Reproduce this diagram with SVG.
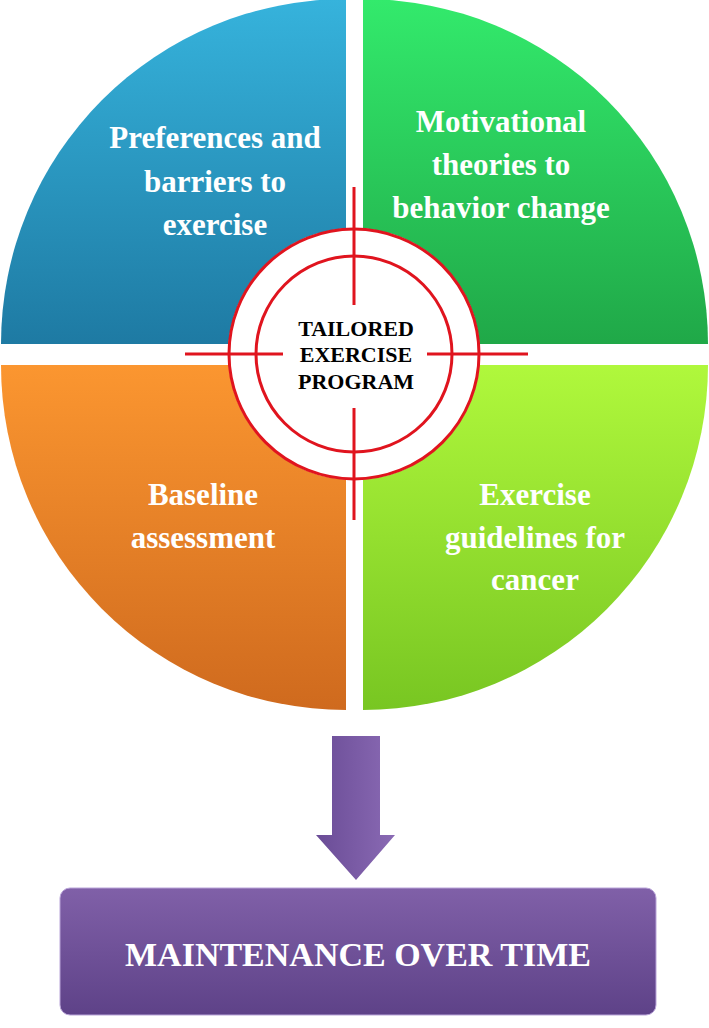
<svg xmlns="http://www.w3.org/2000/svg" width="709" height="1028" viewBox="0 0 709 1028">
<defs>
<linearGradient id="gB" x1="0" y1="0" x2="0" y2="1"><stop offset="0" stop-color="#36b3dc"/><stop offset="1" stop-color="#1e7aa3"/></linearGradient>
<linearGradient id="gG" x1="0" y1="0" x2="0" y2="1"><stop offset="0" stop-color="#33ea6c"/><stop offset="1" stop-color="#20a848"/></linearGradient>
<linearGradient id="gO" x1="0" y1="0" x2="0" y2="1"><stop offset="0" stop-color="#fb9630"/><stop offset="1" stop-color="#cf6a1e"/></linearGradient>
<linearGradient id="gL" x1="0" y1="0" x2="0" y2="1"><stop offset="0" stop-color="#b0f83c"/><stop offset="1" stop-color="#78c622"/></linearGradient>
<linearGradient id="gP" x1="0" y1="0" x2="0" y2="1"><stop offset="0" stop-color="#8060a8"/><stop offset="1" stop-color="#5e4288"/></linearGradient>
<linearGradient id="gA" x1="0" y1="0" x2="1" y2="0"><stop offset="0" stop-color="#6a4c96"/><stop offset="1" stop-color="#8a6ab4"/></linearGradient>
<style>
.q{font-family:"Liberation Serif",serif;font-weight:bold;font-size:31px;fill:#fff;text-anchor:middle}
.c{font-family:"Liberation Serif",serif;font-weight:bold;font-size:22px;fill:#000;text-anchor:middle}
.r{stroke:#e0141e;fill:none;stroke-width:3}
</style>
</defs>
<g id="q-preferences"><path d="M346,344 L1,344 A345,345 0 0 1 346,-1 Z" fill="url(#gB)"/>
<text class="q" x="215" y="148">Preferences and</text><text class="q" x="215" y="192">barriers to</text><text class="q" x="215" y="235">exercise</text></g>
<g id="q-motivational"><path d="M363,344 L363,-1 A345,345 0 0 1 708,344 Z" fill="url(#gG)"/>
<text class="q" x="501" y="132">Motivational</text><text class="q" x="501" y="175">theories to</text><text class="q" x="501" y="218">behavior change</text></g>
<g id="q-baseline"><path d="M346,365 L346,710 A345,345 0 0 1 1,365 Z" fill="url(#gO)"/>
<text class="q" x="203" y="505">Baseline</text><text class="q" x="203" y="548">assessment</text></g>
<g id="q-guidelines"><path d="M363,365 L708,365 A345,345 0 0 1 363,710 Z" fill="url(#gL)"/>
<text class="q" x="535" y="505">Exercise</text><text class="q" x="535" y="548">guidelines for</text><text class="q" x="535" y="590">cancer</text></g>
<g id="center">
<circle cx="354" cy="354" r="126" fill="#fff"/>
<circle class="r" cx="354" cy="354" r="125"/>
<circle class="r" cx="354" cy="354" r="98"/>
<path class="r" d="M185,354 H283 M427,354 H528 M354,187 V305 M354,408 V520"/>
<text class="c" x="356" y="336">TAILORED</text><text class="c" x="356" y="362">EXERCISE</text><text class="c" x="356" y="389">PROGRAM</text>
</g>
<g id="connectors"><path d="M332,736 H380 V835 H395 L356,880 L316,835 H332 Z" fill="url(#gA)"/></g>
<g id="maintenance"><rect x="60" y="888" width="596" height="127" rx="10" fill="url(#gP)" stroke="#b9a4d8" stroke-width="1"/>
<text x="358" y="966" font-family="Liberation Serif,serif" font-weight="bold" font-size="34" fill="#fff" text-anchor="middle">MAINTENANCE OVER TIME</text></g>
</svg>
